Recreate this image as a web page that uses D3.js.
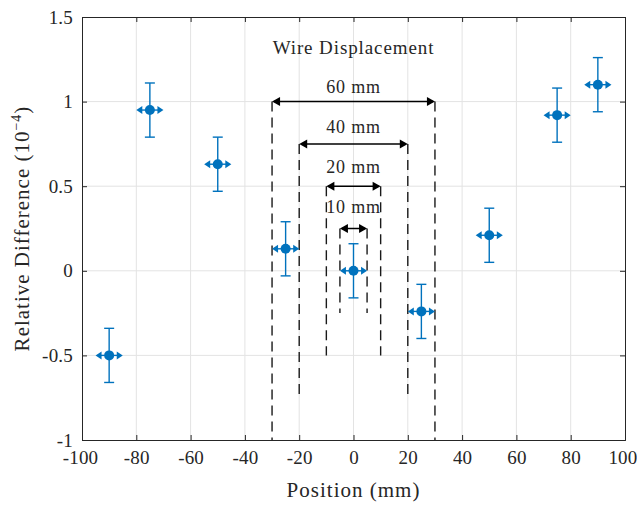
<!DOCTYPE html>
<html>
<head>
<meta charset="utf-8">
<script src="https://cdn.jsdelivr.net/npm/d3@7"></script>
<style>
  html, body { margin: 0; padding: 0; background: #fff; }
  svg { display: block; }
</style>
</head>
<body>
<div id="chart"></div>
<script>
// Measured relative difference at each wire position
const positions = [-90, -75, -50, -25, 0, 25, 50, 75, 90];          // mm
const relDiff   = [-0.50, 0.95, 0.63, 0.13, 0.00, -0.24, 0.21, 0.92, 1.10]; // 1e-4
const yErr      = [0.16, 0.16, 0.16, 0.16, 0.16, 0.16, 0.16, 0.16, 0.16];
const xErr      = [5, 5, 5, 5, 5, 5, 5, 5, 5];                      // mm

// Wire displacement spans (dimension lines)
const spanWidths   = [60, 40, 20, 10];            // mm
const spanLabels   = ["60 mm", "40 mm", "20 mm", "10 mm"];
const spanArrowY   = [1.0, 0.75, 0.5, 0.25];
const spanBottomY  = [-1.0, -0.75, -0.5, -0.25];
const spanLabelY   = [1.053, 0.813, 0.58, 0.343];
const annotationTitle = "Wire Displacement";
const annotationTitleY = 1.28;

// Axis ticks
const xTicks = [-100, -80, -60, -40, -20, 0, 20, 40, 60, 80, 100];
const yTicks = [-1, -0.5, 0, 0.5, 1, 1.5];
const xTickLabels = ["-100", "-80", "-60", "-40", "-20", "0", "20", "40", "60", "80", "100"];
const yTickLabels = ["-1", "-0.5", "0", "0.5", "1", "1.5"];

const W = 637, H = 505;
const margin = { left: 82, right: 12, top: 17, bottom: 65 };
const iw = W - margin.left - margin.right;
const ih = H - margin.top - margin.bottom;
const blue = "#0072BD";
const serif = '"Liberation Serif", "Times New Roman", serif';

const svg = d3.select("#chart").append("svg").attr("width", W).attr("height", H);
const g = svg.append("g").attr("transform", `translate(${margin.left},${margin.top})`);

const x = d3.scaleLinear().domain([-100, 100]).range([0, iw]);
const y = d3.scaleLinear().domain([-1, 1.5]).range([ih, 0]);

// grid
g.append("g").selectAll("line").data(xTicks.slice(1, -1)).join("line")
  .attr("x1", d => x(d)).attr("x2", d => x(d)).attr("y1", 0).attr("y2", ih)
  .attr("stroke", "#e3e3e3").attr("stroke-width", 1);
g.append("g").selectAll("line").data(yTicks.slice(1, -1)).join("line")
  .attr("y1", d => y(d)).attr("y2", d => y(d)).attr("x1", 0).attr("x2", iw)
  .attr("stroke", "#e3e3e3").attr("stroke-width", 1);

// axes (ticks point inward, box on all four sides)
const tickLen = 5;
const xAxisB = d3.axisBottom(x).tickValues(xTicks).tickSize(-tickLen).tickPadding(11)
  .tickFormat((d, i) => xTickLabels[i]);
const xAxisT = d3.axisTop(x).tickValues(xTicks).tickSize(-tickLen).tickFormat("");
const yAxisL = d3.axisLeft(y).tickValues(yTicks).tickSize(-tickLen).tickPadding(9)
  .tickFormat((d, i) => yTickLabels[i]);
const yAxisR = d3.axisRight(y).tickValues(yTicks).tickSize(-tickLen).tickFormat("");

function styleAxis(sel) {
  sel.attr("font-family", null);
  sel.select(".domain").attr("stroke", "#262626").attr("stroke-width", 1);
  sel.selectAll(".tick line").attr("stroke", "#262626").attr("stroke-width", 1);
  sel.selectAll(".tick text").attr("font-size", 19).attr("fill", "#262626");
}
const gxb = g.append("g").attr("transform", `translate(0,${ih})`).call(xAxisB).call(styleAxis);
g.append("g").call(xAxisT).call(styleAxis);
g.append("g").call(yAxisL).call(styleAxis);
g.append("g").attr("transform", `translate(${iw},0)`).call(yAxisR).call(styleAxis);
g.selectAll(".tick text").attr("letter-spacing", 0.2);
// keep the last x tick label inside the figure edge
gxb.selectAll(".tick text").filter(d => d === 100).attr("text-anchor", "end").attr("x", 12);
gxb.selectAll(".tick text").filter(d => d === -100).attr("dx", -2);

// dimension lines
const dash = g.append("g");
spanWidths.forEach((w, i) => {
  const xl = x(-w / 2), xr = x(w / 2), ya = y(spanArrowY[i]), yb = y(spanBottomY[i]);
  [xl, xr].forEach(xx => {
    dash.append("line").attr("x1", xx).attr("x2", xx).attr("y1", ya).attr("y2", yb)
      .attr("stroke", "#1a1a1a").attr("stroke-width", 1.4).attr("stroke-dasharray", "10,6");
  });
  const ah = 8, aw = 4.5;
  dash.append("line").attr("x1", xl + 2).attr("x2", xr - 2).attr("y1", ya).attr("y2", ya)
    .attr("stroke", "#000").attr("stroke-width", 1.5);
  dash.append("path")
    .attr("d", `M${xl},${ya} L${xl + ah},${ya - aw} L${xl + ah},${ya + aw} Z`)
    .attr("fill", "#000");
  dash.append("path")
    .attr("d", `M${xr},${ya} L${xr - ah},${ya - aw} L${xr - ah},${ya + aw} Z`)
    .attr("fill", "#000");
  dash.append("text").attr("x", x(0)).attr("y", y(spanLabelY[i]))
    .attr("text-anchor", "middle").attr("font-size", 18).attr("letter-spacing", 0.8)
    .text(spanLabels[i]);
});
g.append("text").attr("x", x(0)).attr("y", y(annotationTitleY))
  .attr("text-anchor", "middle").attr("font-size", 19).attr("letter-spacing", 0.9)
  .text(annotationTitle);

// data points: vertical error bars, horizontal arrows, markers
const pts = positions.map((p, i) => ({ p, v: relDiff[i], ey: yErr[i], ex: xErr[i] }));
const pg = g.append("g").selectAll("g").data(pts).join("g");
const cap = 5;
pg.append("line").attr("x1", d => x(d.p)).attr("x2", d => x(d.p))
  .attr("y1", d => y(d.v + d.ey)).attr("y2", d => y(d.v - d.ey))
  .attr("stroke", blue).attr("stroke-width", 1.4);
pg.append("line").attr("x1", d => x(d.p) - cap).attr("x2", d => x(d.p) + cap)
  .attr("y1", d => y(d.v + d.ey)).attr("y2", d => y(d.v + d.ey))
  .attr("stroke", blue).attr("stroke-width", 1.4);
pg.append("line").attr("x1", d => x(d.p) - cap).attr("x2", d => x(d.p) + cap)
  .attr("y1", d => y(d.v - d.ey)).attr("y2", d => y(d.v - d.ey))
  .attr("stroke", blue).attr("stroke-width", 1.4);
pg.append("line").attr("x1", d => x(d.p - d.ex) + 2).attr("x2", d => x(d.p + d.ex) - 2)
  .attr("y1", d => y(d.v)).attr("y2", d => y(d.v))
  .attr("stroke", blue).attr("stroke-width", 1.4);
const th = 6, tw = 4;
pg.append("path").attr("fill", blue).attr("d", d => {
  const xl = x(d.p - d.ex), cy = y(d.v);
  return `M${xl},${cy} L${xl + th},${cy - tw} L${xl + th},${cy + tw} Z`;
});
pg.append("path").attr("fill", blue).attr("d", d => {
  const xr = x(d.p + d.ex), cy = y(d.v);
  return `M${xr},${cy} L${xr - th},${cy - tw} L${xr - th},${cy + tw} Z`;
});
pg.append("circle").attr("cx", d => x(d.p)).attr("cy", d => y(d.v)).attr("r", 5)
  .attr("fill", blue);

// axis titles
svg.append("text").attr("x", margin.left + x(0)).attr("y", 497)
  .attr("text-anchor", "middle").attr("font-size", 21).attr("letter-spacing", 1)
  .text("Position (mm)");
const yl = svg.append("text")
  .attr("transform", `translate(29,${margin.top + ih / 2}) rotate(-90)`)
  .attr("text-anchor", "middle").attr("font-size", 21).attr("letter-spacing", 1);
yl.append("tspan").text("Relative Difference (10");
yl.append("tspan").attr("font-size", 14).attr("dy", -8).text("\u22124");
yl.append("tspan").attr("dy", 8).text(")");

// one serif face for every label
svg.selectAll("text").style("font-family", serif).style("fill", "#262626");
</script>
</body>
</html>
